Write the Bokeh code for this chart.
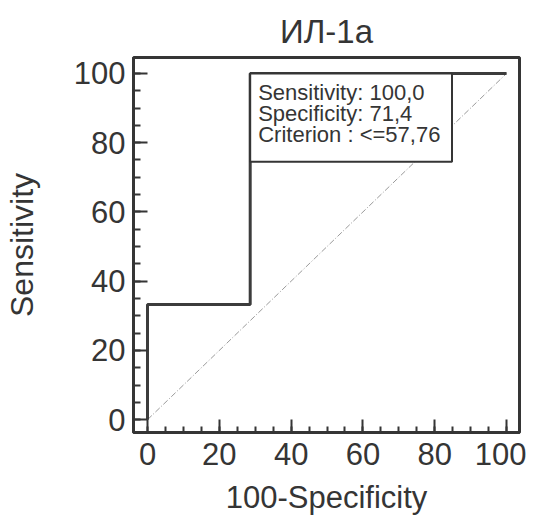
from bokeh.plotting import figure
from bokeh.models import FixedTicker, Range1d, ColumnDataSource
from bokeh.core.properties import value
from bokeh.embed import file_html
from bokeh.resources import INLINE

# ---- data ----
roc_x = [0, 0, 28.6, 28.6, 100]          # 100 - Specificity
roc_y = [0, 33.3, 33.3, 100, 100]        # Sensitivity
diag_x = [0, 100]
diag_y = [0, 100]
x_ticks = [0, 20, 40, 60, 80, 100]
y_ticks = [0, 20, 40, 60, 80, 100]
minor_ticks = list(range(0, 101, 5))
sensitivity = "100,0"
specificity = "71,4"
criterion = "<=57,76"
cut_x = 100 - 71.4
cut_y = 100.0
box_lines = [f"Sensitivity: {sensitivity}", f"Specificity: {specificity}", f"Criterion : {criterion}"]

FONT = "Liberation Sans"
INK = "#353535"

p = figure(frame_width=386, frame_height=375, output_backend="svg", toolbar_location=None,
           x_range=Range1d(-3.9, 103.6), y_range=Range1d(-3.7, 104.6),
           min_border_left=124, min_border_right=7, min_border_top=57, min_border_bottom=60)

p.title.text = "ИЛ-1а"
p.title.align = "center"
p.title.text_font = FONT
p.title.text_font_size = "33px"
p.title.text_font_style = "normal"
p.title.text_color = INK
p.title.standoff = 16

p.xgrid.visible = False
p.ygrid.visible = False
p.outline_line_color = INK
p.outline_line_width = 3
p.outline_line_alpha = 1.0
p.background_fill_color = "white"
p.border_fill_color = "white"

for ax, ticks in ((p.xaxis[0], x_ticks), (p.yaxis[0], y_ticks)):
    ax.ticker = FixedTicker(ticks=ticks, minor_ticks=minor_ticks)
    ax.axis_line_color = INK
    ax.axis_line_width = 3
    ax.major_tick_line_color = INK
    ax.major_tick_line_width = 2
    ax.minor_tick_line_color = INK
    ax.minor_tick_line_width = 2
    ax.major_tick_out = 0
    ax.minor_tick_out = 0
    ax.major_label_text_font = FONT
    ax.major_label_text_font_size = "31px"
    ax.major_label_text_color = INK
    ax.axis_label_text_font = FONT
    ax.axis_label_text_font_style = "normal"
    ax.axis_label_text_color = INK

p.xaxis.major_tick_in = 13
p.xaxis.minor_tick_in = 6
p.yaxis.major_tick_in = 14
p.yaxis.minor_tick_in = 7
p.xaxis.axis_label = "100-Specificity"
p.yaxis.axis_label = "Sensitivity"
p.xaxis.axis_label_text_font_size = "31px"
p.yaxis.axis_label_text_font_size = "32px"
p.xaxis.major_label_standoff = 10
p.yaxis.major_label_standoff = 8
p.xaxis.axis_label_standoff = 12
p.yaxis.axis_label_standoff = 31

# diagonal reference line
p.line(diag_x, diag_y, line_color="#9a9a9a", line_width=1, line_dash="6 2 1 2")

# ROC curve
p.line(roc_x, roc_y, line_color="#3c3c3c", line_width=3)

# info box anchored at the cut-off point
box_w = 56.2
box_h = 25.5
p.quad(left=[cut_x], right=[cut_x + box_w], top=[cut_y], bottom=[cut_y - box_h],
       fill_color="white", line_color=INK, line_width=2)
src = ColumnDataSource(dict(x=[cut_x] * 3, y=[cut_y] * 3, t=box_lines, yo=[19, 40, 61]))
p.text(x="x", y="y", text="t", source=src, x_offset=8, y_offset="yo",
       text_font=value(FONT), text_font_size="22px", text_color=INK,
       text_baseline="alphabetic", text_align="left")

open("out.html", "w").write(file_html(p, INLINE))
